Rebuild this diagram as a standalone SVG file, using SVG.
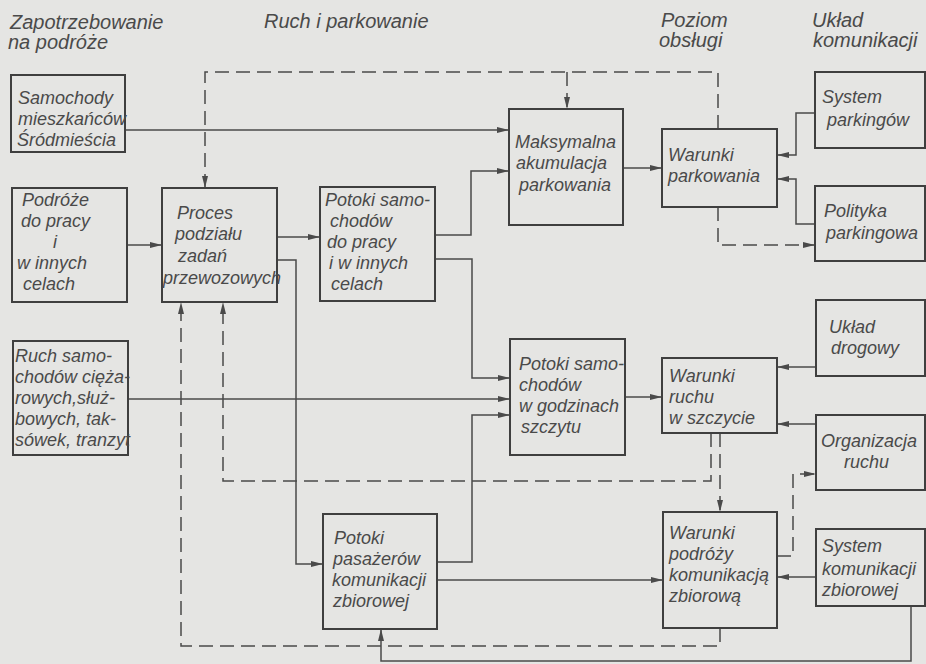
<svg xmlns="http://www.w3.org/2000/svg" width="926" height="664" viewBox="0 0 926 664">
  <defs>
    <style>
      .bg { fill: #e5e5e3; }
      .box { fill: none; stroke: #3f3f3f; stroke-width: 2; }
      .lbl { font-family: "Liberation Sans", Arial, sans-serif; font-style: italic; font-size: 18px; fill: #4a4a4a; }
      .hdr { font-family: "Liberation Sans", Arial, sans-serif; font-style: italic; font-size: 20px; fill: #4a4a4a; }
      .ln { fill: none; stroke: #4a4a4a; stroke-width: 1.5; }
      .dash { fill: none; stroke: #4a4a4a; stroke-width: 1.5; stroke-dasharray: 14 7; }
    </style>
    <marker id="arr" viewBox="0 0 12 6" refX="12" refY="3" markerWidth="12" markerHeight="6" markerUnits="userSpaceOnUse" orient="auto">
      <path d="M0,0 L12,3 L0,6 z" fill="#4a4a4a"/>
    </marker>
  </defs>

  <rect class="bg" x="0" y="0" width="926" height="664"/>

  <!-- column headings -->
  <g id="headings">
    <text class="hdr" x="10" y="29">Zapotrzebowanie</text>
    <text class="hdr" x="8" y="49">na podróże</text>
    <text class="hdr" x="264" y="28">Ruch i parkowanie</text>
    <text class="hdr" x="661" y="27">Poziom</text>
    <text class="hdr" x="659" y="47">obsługi</text>
    <text class="hdr" x="812" y="27">Układ</text>
    <text class="hdr" x="813" y="47">komunikacji</text>
  </g>

  <!-- connectors -->
  <g id="connectors">
    <path class="ln" d="M125,130 H509" marker-end="url(#arr)"/>
    <path class="ln" d="M435,235 H471 V171 H509" marker-end="url(#arr)"/>
    <path class="ln" d="M435,259 H472 V378 H510" marker-end="url(#arr)"/>
    <path class="ln" d="M623,168 H662" marker-end="url(#arr)"/>
    <path class="ln" d="M815,113 H796 V155 H777" marker-end="url(#arr)"/>
    <path class="ln" d="M815,224 H796 V179 H777" marker-end="url(#arr)"/>
    <path class="ln" d="M127,245 H162" marker-end="url(#arr)"/>
    <path class="ln" d="M277,237 H320" marker-end="url(#arr)"/>
    <path class="ln" d="M277,260 H296 V564 H323" marker-end="url(#arr)"/>
    <path class="ln" d="M128,399 H510" marker-end="url(#arr)"/>
    <path class="ln" d="M437,562 H472 V415 H510" marker-end="url(#arr)"/>
    <path class="ln" d="M437,580 H663" marker-end="url(#arr)"/>
    <path class="ln" d="M625,397 H662" marker-end="url(#arr)"/>
    <path class="ln" d="M816,367 H777" marker-end="url(#arr)"/>
    <path class="ln" d="M816,424 H777" marker-end="url(#arr)"/>
    <path class="ln" d="M816,577 H777" marker-end="url(#arr)"/>
    <path class="ln" d="M911,606 V661 H381 V629" marker-end="url(#arr)"/>

    <path class="dash" d="M718,129 V72 H205 V188" marker-end="url(#arr)"/>
    <path class="dash" d="M567,72 V109" marker-end="url(#arr)"/>
    <path class="dash" d="M718,207 V245 H815" marker-end="url(#arr)"/>
    <path class="dash" d="M711,433 V481 H223 V302" marker-end="url(#arr)"/>
    <path class="dash" d="M720,433 V512" marker-end="url(#arr)"/>
    <path class="dash" d="M720,628 V646 H181 V302" marker-end="url(#arr)"/>
    <path class="dash" d="M777,556 H793 V474 H816" marker-end="url(#arr)"/>
  </g>

  <!-- travel demand -->
  <g id="samochody-mieszkancow">
    <rect class="box" x="11" y="75" width="114" height="77"/>
    <text class="lbl" x="18" y="104">Samochody</text>
    <text class="lbl" x="18" y="125">mieszkańców</text>
    <text class="lbl" x="17" y="146">Śródmieścia</text>
  </g>
  <g id="podroze">
    <rect class="box" x="12" y="188" width="115" height="114"/>
    <text class="lbl" x="22" y="206">Podróże</text>
    <text class="lbl" x="21" y="227">do pracy</text>
    <text class="lbl" x="53" y="248">i</text>
    <text class="lbl" x="17" y="269">w innych</text>
    <text class="lbl" x="23" y="290">celach</text>
  </g>
  <g id="ruch-ciezarowy">
    <rect class="box" x="13" y="341" width="115" height="114"/>
    <text class="lbl" x="15" y="362">Ruch samo-</text>
    <text class="lbl" x="15" y="383">chodów cięża-</text>
    <text class="lbl" x="15" y="404">rowych,służ-</text>
    <text class="lbl" x="15" y="425">bowych, tak-</text>
    <text class="lbl" x="15" y="446">sówek, tranzyt</text>
  </g>

  <!-- traffic and parking -->
  <g id="proces-podzialu">
    <rect class="box" x="162" y="188" width="115" height="114"/>
    <text class="lbl" x="177" y="219">Proces</text>
    <text class="lbl" x="175" y="240">podziału</text>
    <text class="lbl" x="178" y="262">zadań</text>
    <text class="lbl" x="163" y="284">przewozowych</text>
  </g>
  <g id="potoki-do-pracy">
    <rect class="box" x="320" y="187" width="115" height="114"/>
    <text class="lbl" x="325" y="206">Potoki samo-</text>
    <text class="lbl" x="330" y="227">chodów</text>
    <text class="lbl" x="327" y="248">do pracy</text>
    <text class="lbl" x="329" y="269">i w innych</text>
    <text class="lbl" x="331" y="290">celach</text>
  </g>
  <g id="maksymalna-akumulacja">
    <rect class="box" x="509" y="109" width="114" height="116"/>
    <text class="lbl" x="515" y="148">Maksymalna</text>
    <text class="lbl" x="516" y="169">akumulacja</text>
    <text class="lbl" x="519" y="191">parkowania</text>
  </g>
  <g id="potoki-szczytu">
    <rect class="box" x="510" y="339" width="115" height="116"/>
    <text class="lbl" x="519" y="370">Potoki samo-</text>
    <text class="lbl" x="519" y="391">chodów</text>
    <text class="lbl" x="519" y="412">w godzinach</text>
    <text class="lbl" x="521" y="433">szczytu</text>
  </g>
  <g id="potoki-pasazerow">
    <rect class="box" x="323" y="514" width="114" height="115"/>
    <text class="lbl" x="334" y="544">Potoki</text>
    <text class="lbl" x="333" y="565">pasażerów</text>
    <text class="lbl" x="332" y="586">komunikacji</text>
    <text class="lbl" x="333" y="607">zbiorowej</text>
  </g>

  <!-- level of service -->
  <g id="warunki-parkowania">
    <rect class="box" x="662" y="129" width="115" height="78"/>
    <text class="lbl" x="668" y="161">Warunki</text>
    <text class="lbl" x="668" y="182">parkowania</text>
  </g>
  <g id="warunki-ruchu">
    <rect class="box" x="662" y="358" width="115" height="75"/>
    <text class="lbl" x="669" y="382">Warunki</text>
    <text class="lbl" x="669" y="403">ruchu</text>
    <text class="lbl" x="669" y="424">w szczycie</text>
  </g>
  <g id="warunki-podrozy">
    <rect class="box" x="663" y="512" width="114" height="116"/>
    <text class="lbl" x="669" y="539">Warunki</text>
    <text class="lbl" x="669" y="560">podróży</text>
    <text class="lbl" x="669" y="581">komunikacją</text>
    <text class="lbl" x="669" y="602">zbiorową</text>
  </g>

  <!-- transport system -->
  <g id="system-parkingow">
    <rect class="box" x="815" y="72" width="110" height="76"/>
    <text class="lbl" x="822" y="103">System</text>
    <text class="lbl" x="827" y="126">parkingów</text>
  </g>
  <g id="polityka-parkingowa">
    <rect class="box" x="815" y="186" width="110" height="75"/>
    <text class="lbl" x="824" y="217">Polityka</text>
    <text class="lbl" x="826" y="239">parkingowa</text>
  </g>
  <g id="uklad-drogowy">
    <rect class="box" x="816" y="300" width="109" height="76"/>
    <text class="lbl" x="829" y="333">Układ</text>
    <text class="lbl" x="831" y="354">drogowy</text>
  </g>
  <g id="organizacja-ruchu">
    <rect class="box" x="816" y="415" width="109" height="75"/>
    <text class="lbl" x="821" y="447">Organizacja</text>
    <text class="lbl" x="844" y="468">ruchu</text>
  </g>
  <g id="system-komunikacji">
    <rect class="box" x="816" y="529" width="109" height="77"/>
    <text class="lbl" x="822" y="552">System</text>
    <text class="lbl" x="822" y="575">komunikacji</text>
    <text class="lbl" x="822" y="596">zbiorowej</text>
  </g>
</svg>
